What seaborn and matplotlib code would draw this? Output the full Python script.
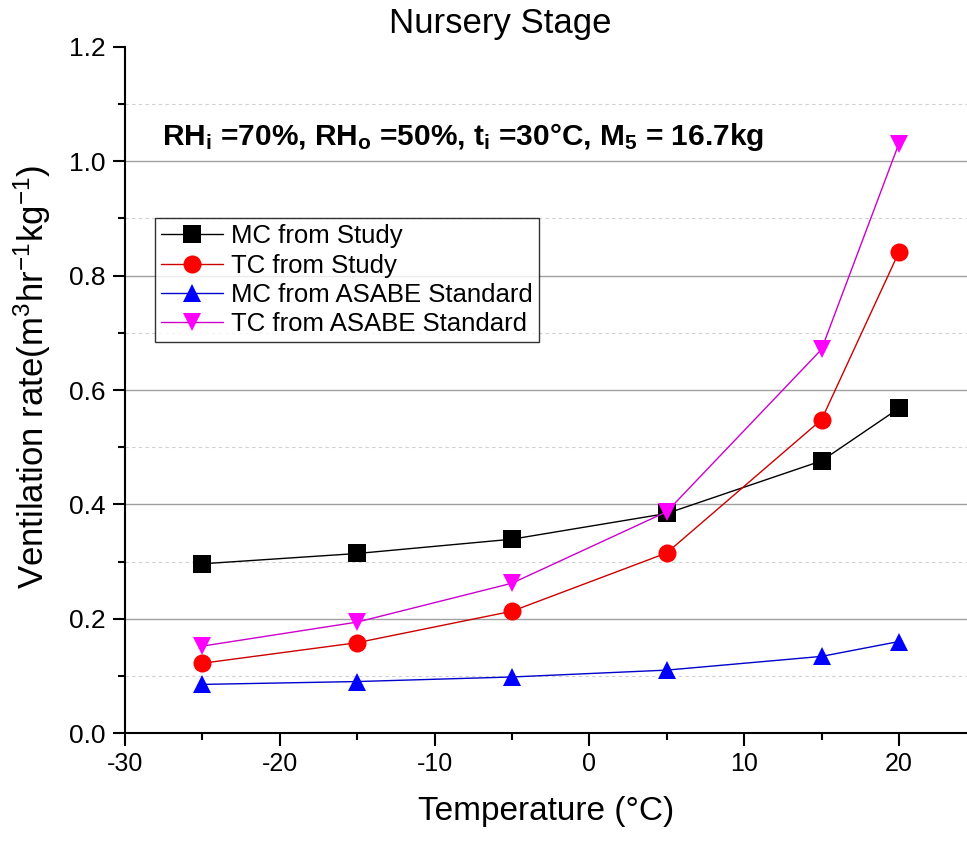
import matplotlib
matplotlib.use("Agg")
import matplotlib.pyplot as plt
import seaborn as sns
import pandas as pd
from matplotlib.ticker import MultipleLocator

temps = [-25, -15, -5, 5, 15, 20]
mc_study = [0.296, 0.314, 0.339, 0.384, 0.476, 0.568]
tc_study = [0.122, 0.158, 0.213, 0.315, 0.548, 0.841]
mc_asabe = [0.085, 0.090, 0.098, 0.110, 0.134, 0.160]
tc_asabe = [0.152, 0.194, 0.262, 0.387, 0.671, 1.031]
series = ["MC from Study", "TC from Study", "MC from ASABE Standard", "TC from ASABE Standard"]
colors = ["#000000", "#FF0000", "#0000FF", "#FF00FF"]
line_colors = ["#000000", "#CC0000", "#0000CC", "#CC00CC"]
markers = ["s", "o", "^", "v"]
x_ticks = [-30, -20, -10, 0, 10, 20]
y_ticks = [0.0, 0.2, 0.4, 0.6, 0.8, 1.0, 1.2]

sns.set_theme(style="white")
plt.rcParams["font.family"] = ["Liberation Sans", "DejaVu Sans"]
plt.rcParams["mathtext.default"] = "regular"
plt.rcParams["axes.unicode_minus"] = False
plt.rcParams["text.color"] = "black"
plt.rcParams["axes.labelcolor"] = "black"
plt.rcParams["xtick.color"] = "black"
plt.rcParams["ytick.color"] = "black"

df = pd.DataFrame({
    "Temperature": temps * 4,
    "Rate": mc_study + tc_study + mc_asabe + tc_asabe,
    "Series": sum([[s] * len(temps) for s in series], []),
})

fig = plt.figure(figsize=(9.67, 8.46), dpi=100)
ax = fig.add_axes([125 / 967, 113 / 846, 1 - 125 / 967, (733 - 47) / 846])

sns.lineplot(data=df, x="Temperature", y="Rate", hue="Series", hue_order=series,
             style="Series", style_order=series, markers=dict(zip(series, markers)),
             dashes=False, palette=dict(zip(series, colors)), linewidth=1.0,
             markersize=13, markeredgewidth=0, legend=False, ax=ax, zorder=3)
for ln, lc in zip(ax.lines, line_colors):
    ln.set_color(lc)
for ln, c in zip(ax.lines, colors):
    ln.set_markerfacecolor(c)
    ln.set_markeredgecolor(c)

ax.set_xlim(-30, 24.4)
ax.set_ylim(0, 1.2)
ax.set_xticks(x_ticks)
ax.set_yticks(y_ticks)
ax.set_yticklabels([f"{v:.1f}" for v in y_ticks])
ax.xaxis.set_minor_locator(MultipleLocator(5))
ax.yaxis.set_minor_locator(MultipleLocator(0.1))
ax.tick_params(axis="both", which="both", direction="out", color="black", width=1.5)
ax.tick_params(axis="both", which="major", length=9)
ax.tick_params(axis="both", which="minor", length=5)
ax.tick_params(axis="x", which="both", bottom=True, labelsize=18, pad=5)
ax.tick_params(axis="y", which="both", left=True, labelsize=19, pad=5)
for s in ["top", "right"]:
    ax.spines[s].set_visible(False)
for s in ["left", "bottom"]:
    ax.spines[s].set_color("black")
    ax.spines[s].set_linewidth(1.5)

ax.grid(False)
ax.yaxis.grid(True, which="major", color="#a0a0a0", linewidth=1.0, linestyle="-")
ax.yaxis.grid(True, which="minor", color="#d0d0d0", linewidth=0.8, linestyle=(0, (3, 3)))
ax.set_axisbelow(True)
ax.yaxis.get_gridlines()[-1].set_visible(False)

ax.set_xlabel("Temperature (°C)", fontsize=24, labelpad=14)
ax.set_ylabel(r"Ventilation rate(m$^3$hr$^{-1}$kg$^{-1}$)", fontsize=25)
ax.yaxis.set_label_coords(-0.0855, 0.519)

fig.text(500 / 967, 1 - 24 / 846, "Nursery Stage", ha="center", va="center", fontsize=25)
fig.text(162 / 967, 1 - 137 / 846,
         r"RH$_{i}$ =70%, RH$_{o}$ =50%, t$_{i}$ =30°C, M$_{5}$ = 16.7kg",
         ha="left", va="center", fontsize=21.5, fontweight="bold")

leg = ax.legend(handles=ax.lines[:4], labels=series, loc="upper left",
                bbox_to_anchor=(155 / 967, 1 - 218 / 846), bbox_transform=fig.transFigure,
                fontsize=18.5, frameon=True, fancybox=False, handlelength=2.4,
                handletextpad=0.3, labelspacing=0.2, borderpad=0.25, borderaxespad=0)
leg.get_frame().set_edgecolor("black")
leg.get_frame().set_linewidth(1.0)

fig.savefig("out.png", dpi=100)
